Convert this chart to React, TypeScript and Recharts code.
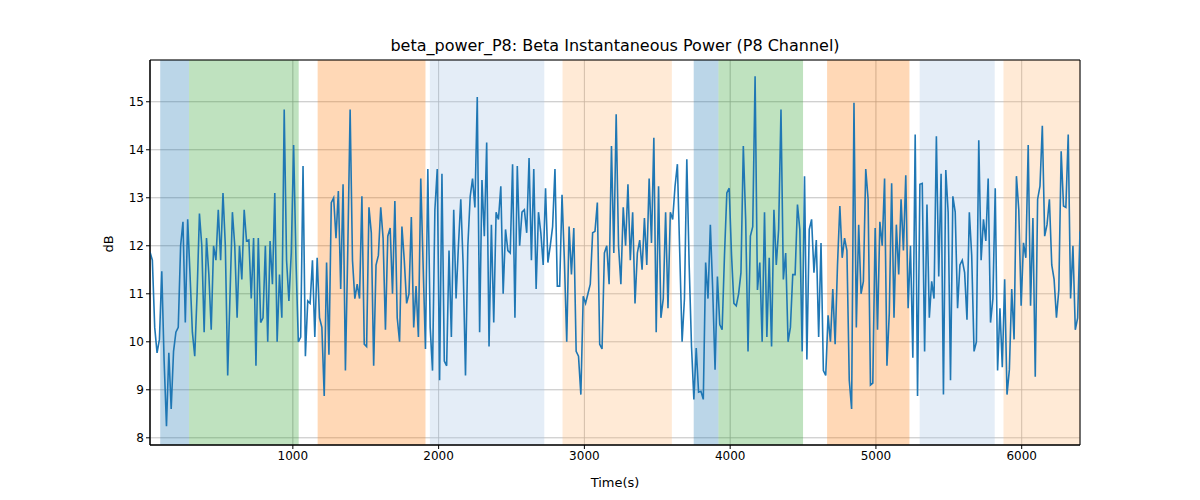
import React from 'react';
import { LineChart, Line, XAxis, YAxis, CartesianGrid, ReferenceArea, Label } from 'recharts';

const segA = [11.87, 11.7, 10.3, 9.77, 10.05, 11.47, 9.6, 8.24, 9.77, 8.6, 9.8, 10.2, 10.3, 12.0, 12.5, 10.4, 12.55, 11.4, 10.2, 9.7,
  11.0, 12.67, 12.0, 10.2, 12.16, 11.4, 10.25, 12.0, 11.7, 12.75, 11.7, 13.1, 12.0, 9.3, 11.0, 12.7, 12.0, 10.5, 12.0, 11.3,
  12.75, 12.1, 12.12, 10.9, 12.16, 9.5, 12.16, 10.4, 10.5, 12.0, 10.0, 12.1, 11.2, 13.1, 10.0, 11.4, 10.5, 14.84, 11.7, 10.85,
  11.85, 14.1, 11.7, 10.0, 10.1, 13.66, 9.7, 10.85, 10.8, 11.7, 10.1, 11.75, 10.5, 10.3, 8.87, 11.65, 9.73, 12.9, 13.0, 12.16,
  13.14, 11.1, 13.28, 9.4, 11.9, 14.84, 11.7, 10.9, 11.2, 10.9, 13.03, 9.95, 9.9, 12.8, 12.27, 9.5, 11.6, 11.8, 12.8, 12.16,
  10.25, 12.2, 12.37, 11.0];
const segB = [12.93, 10.5, 10.0, 12.4, 11.7, 10.8, 11.0, 12.6, 10.3, 11.16, 10.1, 13.4, 11.6, 9.85, 13.6, 10.3, 9.4, 12.75, 13.6, 9.2,
  13.5, 9.6, 9.5, 11.9, 10.1, 12.75, 10.9, 12.0, 12.97, 11.6, 9.3, 12.0, 13.03, 13.4, 12.8, 15.1, 10.2, 13.37, 12.2, 14.15,
  9.9, 12.44, 10.4, 12.7, 12.55, 13.24, 11.0, 12.34, 11.9, 11.85, 13.7, 10.5, 13.66, 12.0, 12.7, 12.75, 12.27, 13.83, 11.7, 13.6,
  11.1, 12.7, 12.27, 11.6, 13.2, 11.65, 12.0, 12.4, 13.6, 11.16, 11.16, 13.06, 11.7, 10.0, 12.4, 11.4, 12.37, 9.8, 9.7, 8.9,
  10.95, 10.8, 11.0, 11.2, 12.27, 12.3, 12.9, 9.95, 9.85, 11.85, 12.0, 11.2, 14.08, 11.85, 14.74, 12.0, 11.2, 12.8, 12.0, 13.28,
  11.7];
const segC = [12.7, 10.8, 11.85, 12.12, 11.5, 12.58, 11.6, 13.4, 12.06, 14.25, 10.2, 13.24, 10.5, 10.9, 12.7, 10.7, 12.7, 12.55, 13.24, 13.7,
  11.85, 10.0, 10.9, 13.8, 11.6, 9.9, 8.8, 9.87, 8.95, 8.97, 8.8, 11.65, 10.9, 12.44, 11.08, 9.42, 11.36, 10.36, 10.25, 11.8,
  13.1, 13.2, 11.8, 10.8, 10.75, 11.0, 11.44, 14.08, 12.55, 9.8, 12.2, 12.4, 15.53, 11.08, 11.65, 10.0, 12.7, 10.1, 11.75, 9.9,
  12.75, 11.6, 12.34, 14.84, 11.3, 11.85, 10.0, 10.3, 11.4, 11.4, 12.86, 12.34, 9.8, 13.45, 9.63, 12.34, 12.55, 11.44, 12.12, 10.1,
  12.06, 9.4, 9.3, 10.55, 10.0, 11.1, 9.95, 11.6, 12.83, 11.75, 12.16, 11.9, 9.2, 8.6, 14.98, 10.3, 12.44, 11.0, 11.26, 13.6,
  12.97, 9.1];
const segD = [9.14, 12.37, 10.25, 12.5, 12.0, 13.4, 9.5, 10.6, 13.3, 10.5, 12.44, 11.4, 12.97, 11.9, 13.47, 10.7, 12.0, 9.67, 14.32, 8.87,
  13.28, 13.3, 9.8, 12.86, 10.5, 11.26, 10.9, 14.28, 11.36, 13.5, 8.9, 13.58, 12.7, 9.2, 13.03, 12.7, 10.7, 11.6, 11.7, 11.44,
  10.46, 12.7, 11.8, 9.8, 10.0, 14.2, 11.7, 12.55, 12.1, 13.4, 10.4, 10.9, 13.2, 9.4, 10.7, 9.47, 11.3, 8.9, 9.42, 11.1,
  10.05, 13.45, 12.75, 10.75, 12.06, 11.75, 14.1, 10.75, 12.58, 9.27, 12.97, 13.24, 14.5, 12.2, 12.44, 12.97, 11.6, 11.3, 10.5, 11.08,
  13.97, 12.83, 12.8, 14.32, 10.9, 12.0, 10.25, 10.5, 12.3];

const power = [...segA, ...segB, ...segC, ...segD];
const tStart = 20;
const tEnd = 6400;
const data = power.map((v, i) => ({ t: tStart + (i * (tEnd - tStart)) / (power.length - 1), v }));

const spanStarts = [90, 288, 1170, 1940, 2850, 3750, 3920, 4665, 5300, 5875];
const spanEnds = [288, 1040, 1910, 2725, 3600, 3920, 4500, 5230, 5815, 6400];
const spanColors = ['#1f77b4', '#2ca02c', '#ff7f0e', '#aec7e8', '#ffbb78', '#1f77b4', '#2ca02c', '#ff7f0e', '#aec7e8', '#ffbb78'];
const spanOpacity = [0.3, 0.3, 0.3, 0.33, 0.3, 0.3, 0.3, 0.3, 0.33, 0.3];

const xTicks = [1000, 2000, 3000, 4000, 5000, 6000];
const yTicks = [8, 9, 10, 11, 12, 13, 14, 15];

const font = 'DejaVu Sans, sans-serif';

export default function App() {
  return (
    <div style={{ position: 'absolute', left: 0, top: 0, width: 1200, height: 500, background: '#fff', fontFamily: font }}>
      <div style={{ position: 'absolute', top: 36, left: 150, width: 930, textAlign: 'center', fontSize: 16, color: '#000' }}>
        beta_power_P8: Beta Instantaneous Power (P8 Channel)
      </div>
      <LineChart width={1200} height={500} data={data} margin={{ top: 60, right: 120, bottom: 25, left: 100 }}>
        {spanStarts.map((s, i) => (
          <ReferenceArea key={i} x1={s} x2={spanEnds[i]} fill={spanColors[i]} fillOpacity={spanOpacity[i]} stroke="none" ifOverflow="hidden" />
        ))}
        <CartesianGrid stroke="#b0b0b0" strokeWidth={0.8} />
        <XAxis dataKey="t" type="number" domain={[tStart, tEnd]} ticks={xTicks} height={30} allowDataOverflow
          tick={{ fill: '#000', fontSize: 12, fontFamily: font }} tickSize={4} stroke="#000">
          <Label value="Time(s)" position="insideBottom" offset={-12} style={{ fill: '#000', fontSize: 13, fontFamily: font }} />
        </XAxis>
        <YAxis type="number" domain={[7.85, 15.87]} ticks={yTicks} width={50} allowDataOverflow
          tick={{ fill: '#000', fontSize: 12, fontFamily: font }} tickSize={4} stroke="#000">
          <Label value="dB" angle={-90} position="insideLeft" offset={8} style={{ fill: '#000', fontSize: 13, fontFamily: font }} />
        </YAxis>
        <Line dataKey="v" stroke="#1f77b4" strokeWidth={1.6} dot={false} isAnimationActive={false} />
        <ReferenceArea x1={tStart} x2={tEnd} y1={7.85} y2={15.87} fill="none" stroke="#000" strokeWidth={1} />
      </LineChart>
    </div>
  );
}
